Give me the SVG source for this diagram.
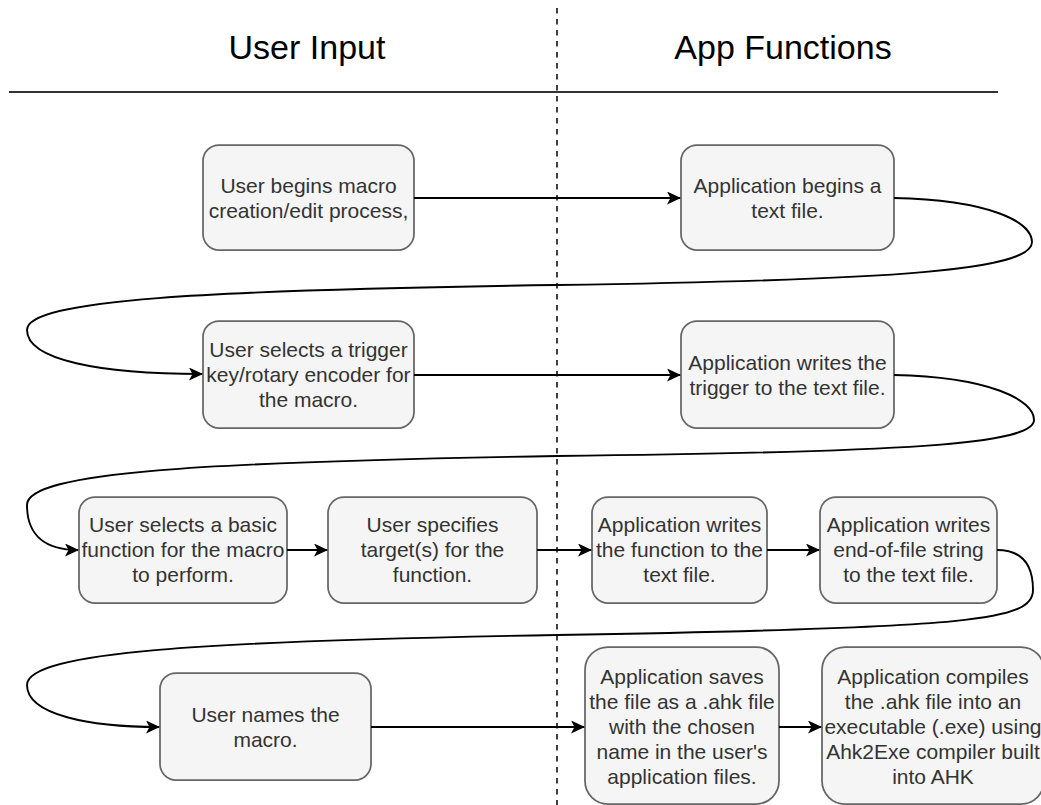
<svg xmlns="http://www.w3.org/2000/svg" width="1041" height="805" viewBox="0 0 1041 805">
<defs>
<marker id="arr" viewBox="0 0 14 13" refX="13" refY="6.5" markerWidth="14" markerHeight="13" markerUnits="userSpaceOnUse" orient="auto">
<path d="M0,0 L14,6.5 L0,13 L3.5,6.5 Z" fill="#000"/>
</marker>
<style>
.box{fill:#f5f5f5;stroke:#666;stroke-width:1.75}
.t{font-family:"Liberation Sans",Arial,sans-serif;font-size:21px;fill:#333;text-anchor:middle}
.h{font-family:"Liberation Sans",Arial,sans-serif;font-size:34px;fill:#000;text-anchor:middle}
.e{fill:none;stroke:#000;stroke-width:1.9;marker-end:url(#arr)}
</style>
</defs>
<rect width="1041" height="805" fill="#fff"/>
<g id="header">
<text class="h" x="307" y="59">User Input</text>
<text class="h" x="783" y="59">App Functions</text>
<line x1="9" y1="92" x2="998" y2="92" stroke="#333" stroke-width="2"/>
<line x1="557" y1="8" x2="557" y2="805" stroke="#000" stroke-width="1.5" stroke-dasharray="5.5 5.5"/>
</g>
<g id="n1"><rect class="box" x="203" y="145" width="211" height="105" rx="16"/>
<text class="t" x="308.5" y="192.5">User begins macro</text><text class="t" x="308.5" y="217.5">creation/edit process,</text></g>
<g id="n2"><rect class="box" x="681" y="145" width="213" height="105" rx="16"/>
<text class="t" x="787.5" y="192.5">Application begins a</text><text class="t" x="787.5" y="217.5">text file.</text></g>
<g id="n3"><rect class="box" x="203" y="321" width="211" height="107" rx="16"/>
<text class="t" x="308.5" y="357">User selects a trigger</text><text class="t" x="308.5" y="382">key/rotary encoder for</text><text class="t" x="308.5" y="407">the macro.</text></g>
<g id="n4"><rect class="box" x="681" y="321" width="213" height="107" rx="16"/>
<text class="t" x="787.5" y="369.5">Application writes the</text><text class="t" x="787.5" y="394.5">trigger to the text file.</text></g>
<g id="n5"><rect class="box" x="79" y="497" width="208" height="106" rx="16"/>
<text class="t" x="183" y="532">User selects a basic</text><text class="t" x="183" y="557">function for the macro</text><text class="t" x="183" y="582">to perform.</text></g>
<g id="n6"><rect class="box" x="328" y="497" width="209" height="106" rx="16"/>
<text class="t" x="432.5" y="532">User specifies</text><text class="t" x="432.5" y="557">target(s) for the</text><text class="t" x="432.5" y="582">function.</text></g>
<g id="n7"><rect class="box" x="592" y="497" width="175" height="106" rx="16"/>
<text class="t" x="679.5" y="532">Application writes</text><text class="t" x="679.5" y="557">the function to the</text><text class="t" x="679.5" y="582">text file.</text></g>
<g id="n8"><rect class="box" x="820" y="497" width="177" height="106" rx="16"/>
<text class="t" x="908.5" y="532">Application writes</text><text class="t" x="908.5" y="557">end-of-file string</text><text class="t" x="908.5" y="582">to the text file.</text></g>
<g id="n9"><rect class="box" x="160" y="673" width="211" height="107" rx="16"/>
<text class="t" x="265.5" y="721.5">User names the</text><text class="t" x="265.5" y="746.5">macro.</text></g>
<g id="n10"><rect class="box" x="585" y="647" width="194" height="157" rx="23"/>
<text class="t" x="682" y="684">Application saves</text><text class="t" x="682" y="709">the file as a .ahk file</text><text class="t" x="682" y="734">with the chosen</text><text class="t" x="682" y="759">name in the user's</text><text class="t" x="682" y="784">application files.</text></g>
<g id="n11"><rect class="box" x="822" y="647" width="222" height="157" rx="23"/>
<text class="t" x="933" y="684">Application compiles</text><text class="t" x="933" y="709">the .ahk file into an</text><text class="t" x="933" y="734">executable (.exe) using</text><text class="t" x="933" y="759">Ahk2Exe compiler built</text><text class="t" x="933" y="784">into AHK</text></g>
<g id="edges">
<path class="e" d="M414,198 L680,198"/>
<path class="e" d="M894,198 C990,200 1032,222 1032,242 C1032,270 900,280 557,285 C200,290 27,300 27,330 C27,360 100,374 202,374"/>
<path class="e" d="M414,375 L680,375"/>
<path class="e" d="M894,375 C990,377 1034,400 1034,420 C1034,445 900,452 557,456 C200,462 27,472 27,505 C27,535 45,550 78,550"/>
<path class="e" d="M287,550 L327,550"/>
<path class="e" d="M537,550 L591,550"/>
<path class="e" d="M767,550 L819,550"/>
<path class="e" d="M997,550 C1022,550 1033,565 1033,590 C1033,620 980,628 557,635 C200,641 27,652 27,685 C27,715 90,727 159,727"/>
<path class="e" d="M371,727 L584,727"/>
<path class="e" d="M779,727 L821,727"/>
</g>
</svg>
